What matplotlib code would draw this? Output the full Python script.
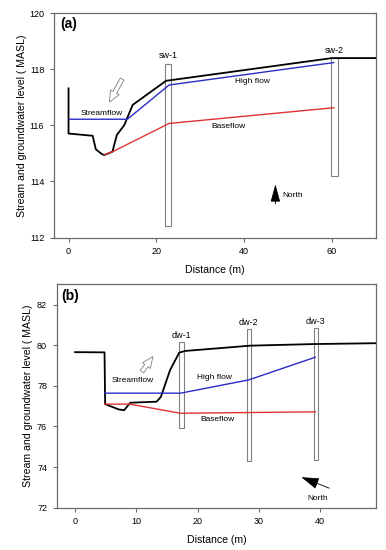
import matplotlib
matplotlib.use('Agg')
import matplotlib.pyplot as plt

plt.rcParams['font.family'] = ['Liberation Sans', 'DejaVu Sans']

# ---- panel (a) data ----
a_ground_x = [0, 0, 5.5, 6.2, 7.4, 8.1, 10.0, 11.0, 12.7, 14.6, 22.2, 60.0, 61.1, 70.0]
a_ground_y = [117.32, 115.71, 115.63, 115.15, 115.0, 114.94, 115.06, 115.66, 116.01, 116.73, 117.59, 118.4, 118.4, 118.4]
a_high_x = [0.2, 13.4, 22.9, 60.4]
a_high_y = [116.22, 116.22, 117.44, 118.24]
a_base_x = [8.1, 10.0, 22.9, 60.4]
a_base_y = [114.95, 115.06, 116.07, 116.63]
a_wells = ['sw-1', 'sw-2']
a_well_x = [22.6, 60.55]
a_well_top = [118.2, 118.4]
a_well_bot = [112.43, 114.18]

# ---- panel (b) data ----
b_ground_x = [0, 4.8, 4.9, 7.1, 8.0, 9.0, 13.3, 14.0, 15.5, 17.0, 18.0, 28.6, 39.2, 49.1]
b_ground_y = [79.66, 79.65, 77.1, 76.84, 76.8, 77.17, 77.22, 77.46, 78.78, 79.64, 79.72, 79.98, 80.06, 80.1]
b_high_x = [4.9, 17.2, 28.3, 39.2]
b_high_y = [77.64, 77.64, 78.29, 79.41]
b_base_x = [4.9, 8.9, 17.2, 39.2]
b_base_y = [77.1, 77.1, 76.65, 76.72]
b_wells = ['dw-1', 'dw-2', 'dw-3']
b_well_x = [17.35, 28.35, 39.3]
b_well_top = [80.15, 80.79, 80.84]
b_well_bot = [75.94, 74.29, 74.37]

BLACK = '#000000'
BLUE = '#2b2bc8'
RED = '#e03232'
GRAY = '#808080'
SPINE = '#6a6a6a'

fig = plt.figure(figsize=(3.86, 5.5), dpi=100)
axA = fig.add_axes([0.140, 0.568, 0.834, 0.408])
axB = fig.add_axes([0.147, 0.077, 0.827, 0.406])

FLOW_ARROW = dict(arrowstyle='simple,head_width=0.7,head_length=0.8,tail_width=0.3',
                  fc='white', ec=GRAY, lw=0.6, shrinkA=0, shrinkB=0)


def style_axes(ax, lpad):
    for sp in ax.spines.values():
        sp.set_color(SPINE)
        sp.set_linewidth(0.9)
    ax.tick_params(direction='out', length=3, width=0.8, color=SPINE,
                   labelsize=6.5, pad=4, top=False, right=False)
    ax.set_xlabel('Distance (m)', fontsize=7.6, labelpad=6)
    ax.set_ylabel('Stream and groundwater level ( MASL)', fontsize=7.6, labelpad=lpad)


def draw_wells(ax, names, xs, tops, bots, width, dy):
    for n, x, t, b in zip(names, xs, tops, bots):
        ax.bar(x, t - b, width=width, bottom=b, fill=False,
               edgecolor=GRAY, linewidth=0.8, zorder=3)
        ax.text(x, t + dy, n, fontsize=6.5, ha='center', va='bottom')


# ---------- (a) ----------
axA.plot(a_ground_x, a_ground_y, color=BLACK, lw=1.3, zorder=4)
axA.plot(a_high_x, a_high_y, color=BLUE, lw=1.0, zorder=4)
axA.plot(a_base_x, a_base_y, color=RED, lw=1.0, zorder=4)
draw_wells(axA, a_wells, a_well_x, a_well_top, a_well_bot, 1.4, 0.12)
axA.set_xlim(-3.3, 70)
axA.set_ylim(112, 120)
axA.set_xticks([0, 20, 40, 60])
axA.set_yticks([112, 114, 116, 118, 120])
axA.text(-1.8, 119.6, '(a)', fontsize=10, fontweight='bold', va='center')
axA.text(7.6, 116.43, 'Streamflow', fontsize=6, ha='center', va='center')
axA.text(41.8, 117.58, 'High flow', fontsize=6, ha='center', va='center')
axA.text(36.4, 115.95, 'Baseflow', fontsize=6, ha='center', va='center')
axA.annotate('', xy=(9.3, 116.83), xytext=(12.2, 117.65), arrowprops=FLOW_ARROW)
axA.annotate('', xy=(47.1, 114.0), xytext=(47.1, 113.1),
             arrowprops=dict(arrowstyle='-|>,head_length=1.1,head_width=0.3',
                             fc='black', ec='black', lw=0.6))
axA.text(48.6, 113.5, 'North', fontsize=6, va='center')
style_axes(axA, 2)

# ---------- (b) ----------
axB.plot(b_ground_x, b_ground_y, color=BLACK, lw=1.3, zorder=4)
axB.plot(b_high_x, b_high_y, color=BLUE, lw=1.0, zorder=4)
axB.plot(b_base_x, b_base_y, color=RED, lw=1.0, zorder=4)
draw_wells(axB, b_wells, b_well_x, b_well_top, b_well_bot, 0.75, 0.12)
axB.set_xlim(-3, 49.1)
axB.set_ylim(72, 83)
axB.set_xticks([0, 10, 20, 30, 40])
axB.set_yticks([72, 74, 76, 78, 80, 82])
axB.text(-2.2, 82.45, '(b)', fontsize=10, fontweight='bold', va='center')
axB.text(9.4, 78.24, 'Streamflow', fontsize=6, ha='center', va='center')
axB.text(22.7, 78.42, 'High flow', fontsize=6, ha='center', va='center')
axB.text(23.2, 76.35, 'Baseflow', fontsize=6, ha='center', va='center')
axB.annotate('', xy=(12.7, 79.44), xytext=(10.9, 78.7), arrowprops=FLOW_ARROW)
axB.annotate('', xy=(36.5, 73.55), xytext=(41.9, 72.91),
             arrowprops=dict(arrowstyle='-|>,head_length=1.1,head_width=0.35',
                             fc='black', ec='black', lw=0.6))
axB.text(39.6, 72.45, 'North', fontsize=6, ha='center', va='center')
style_axes(axB, 2.5)

fig.savefig('out.png', dpi=100)
